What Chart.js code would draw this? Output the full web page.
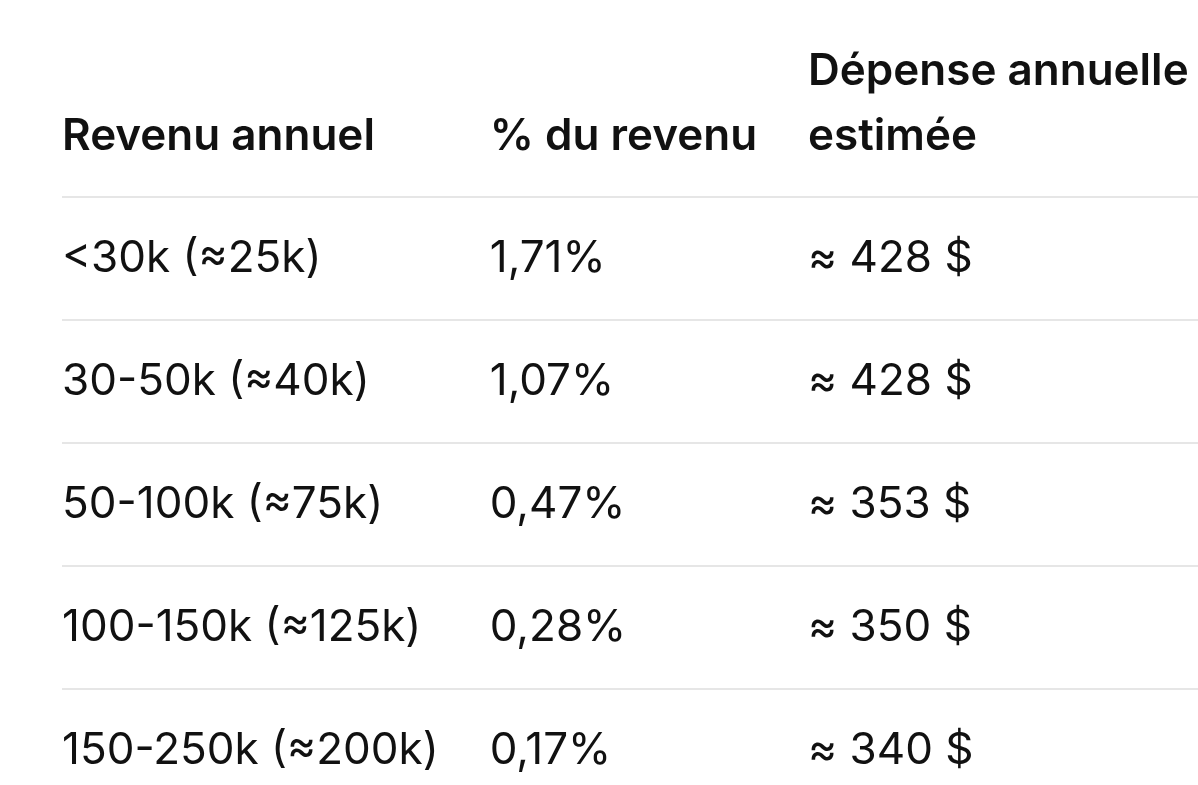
<!doctype html>
<html lang="fr">
<head>
    <meta charset="utf-8">
    <title>Dépense annuelle par revenu</title>
    <script src="https://cdn.jsdelivr.net/npm/chart.js"></script>
    <style>
      html, body { margin: 0; padding: 0; background: #fff; overflow: hidden; }
      canvas { display: block; }
    </style>
</head>
<body>
    <canvas id="myChart" width="1198" height="812"></canvas>
    <script type="text/javascript">
      // column headers
      const columnTitles = ['Revenu annuel', '% du revenu', 'Dépense annuelle estimée'];
      // rows
      const incomeBands = ['<30k (≈25k)', '30-50k (≈40k)', '50-100k (≈75k)', '100-150k (≈125k)', '150-250k (≈200k)'];
      const shareOfIncome = [1.71, 1.07, 0.47, 0.28, 0.17]; // %
      const annualSpend = [428, 428, 353, 350, 340]; // $

      const FONT = 'Inter, "Noto Sans", sans-serif';
      const TEXT_COLOR = '#111111';

      function fmtShare(v) { return v.toFixed(2).replace('.', ',') + '%'; }
      function fmtSpend(v) { return '≈ ' + v + ' $'; }

      function wrapWords(ctx, text, maxWidth) {
        const words = text.split(' ');
        const lines = [];
        let line = '';
        for (const w of words) {
          const test = line ? line + ' ' + w : w;
          if (line && ctx.measureText(test).width > maxWidth) {
            lines.push(line);
            line = w;
          } else {
            line = test;
          }
        }
        if (line) lines.push(line);
        return lines;
      }

      const tablePlugin = {
        id: 'tableText',
        afterDraw(chart) {
          const ctx = chart.ctx;
          const area = chart.chartArea;
          const yScale = chart.scales.y;
          const cellGap = 51;
          const bodyFont = '400 44px ' + FONT;
          const headFont = '600 44px ' + FONT;

          const cells = [
            incomeBands,
            shareOfIncome.map(fmtShare),
            annualSpend.map(fmtSpend)
          ];

          // column left edges from content widths (auto table layout)
          const colX = [area.left];
          for (let c = 0; c < cells.length - 1; c++) {
            ctx.font = bodyFont;
            let w = Math.max(...cells[c].map(t => ctx.measureText(t).width));
            ctx.font = headFont;
            w = Math.max(w, ctx.measureText(columnTitles[c]).width);
            colX.push(colX[c] + w + cellGap);
          }

          ctx.save();
          ctx.fillStyle = TEXT_COLOR;
          ctx.textAlign = 'left';

          // header, bottom aligned
          ctx.font = headFont;
          ctx.textBaseline = 'alphabetic';
          const lineH = 65;
          const lastBase = area.top - 47;
          columnTitles.forEach((title, c) => {
            const maxW = (c < colX.length - 1 ? colX[c + 1] - cellGap : area.right) - colX[c];
            const lines = wrapWords(ctx, title, maxW);
            lines.forEach((ln, k) => {
              ctx.fillText(ln, colX[c], lastBase - (lines.length - 1 - k) * lineH);
            });
          });

          // body rows
          ctx.font = bodyFont;
          ctx.textBaseline = 'middle';
          incomeBands.forEach((band, i) => {
            const y = yScale.getPixelForValue(i);
            cells.forEach((col, c) => ctx.fillText(col[i], colX[c], y));
          });
          ctx.restore();
        }
      };

      const config = {
        type: 'bar',
        data: {
          labels: incomeBands,
          datasets: []
        },
        options: {
          responsive: false,
          animation: false,
          events: [],
          layout: { padding: { top: 197, left: 62, right: 0, bottom: 0 } },
          plugins: { legend: { display: false }, tooltip: { enabled: false } },
          scales: {
            x: { display: false },
            y: {
              type: 'category',
              offset: true,
              ticks: { display: false },
              border: { display: false },
              grid: { offset: true, color: '#e6e6e6', lineWidth: 2, drawTicks: false },
              afterFit(scale) { scale.width = 0; }
            }
          }
        },
        plugins: [tablePlugin]
      };

      const myChart = new Chart(document.getElementById('myChart'), config);
    </script>
</body>
</html>
